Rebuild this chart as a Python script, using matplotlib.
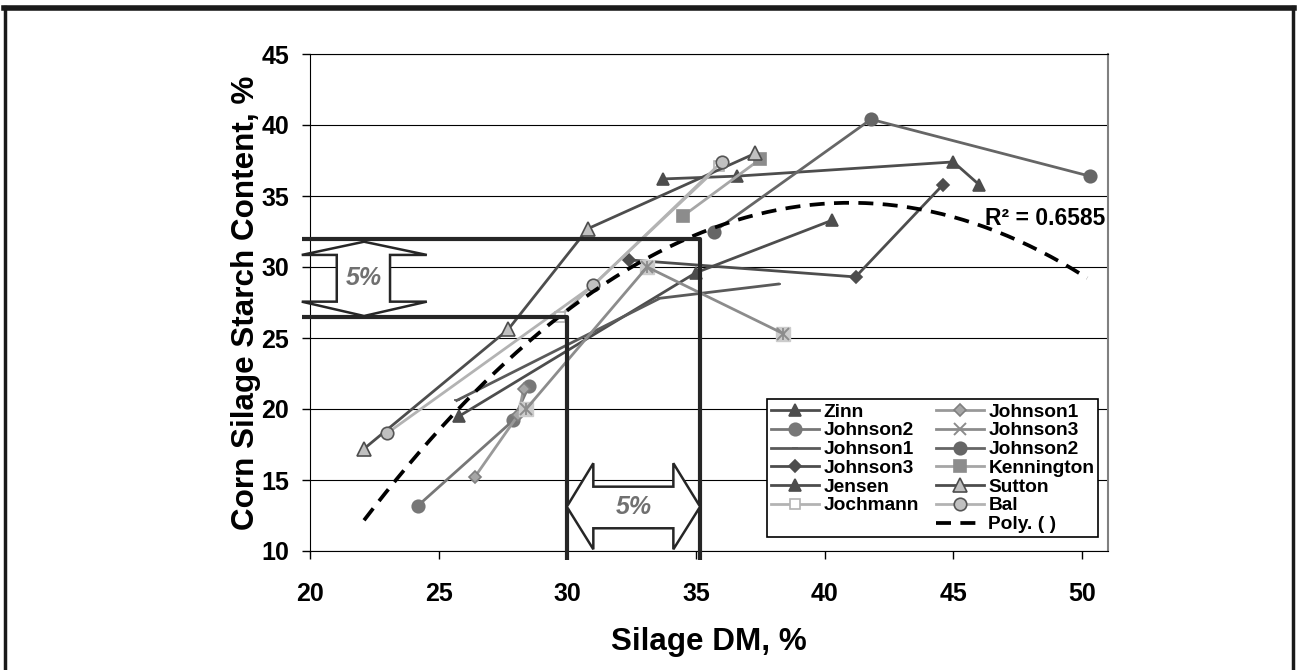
import numpy as np
import matplotlib
matplotlib.use('Agg')
import matplotlib.pyplot as plt
from matplotlib.patches import Polygon
from matplotlib.lines import Line2D

plt.rcParams['font.family'] = ['Liberation Sans', 'DejaVu Sans']
plt.rcParams['font.weight'] = 'bold'

# silage DM (%) vs starch (%), one pair per study
zinn_x = [25.8, 35.0, 40.3]
zinn_y = [19.5, 29.6, 33.3]
johnson2a_x = [24.2, 27.9, 28.5]
johnson2a_y = [13.2, 19.2, 21.6]
johnson1a_x = [25.7, 33.6, 38.2]
johnson1a_y = [20.6, 27.8, 28.8]
johnson3a_x = [32.4, 41.2, 44.6]
johnson3a_y = [30.5, 29.3, 35.8]
jensen_x = [33.7, 36.6, 45.0, 46.0]
jensen_y = [36.2, 36.4, 37.4, 35.8]
jochmann_x = [29.7, 35.9]
jochmann_y = [26.5, 37.1]
johnson1b_x = [26.4, 28.1, 28.3]
johnson1b_y = [15.2, 19.6, 21.4]
johnson3b_x = [28.4, 33.1, 38.4]
johnson3b_y = [20.0, 30.0, 25.3]
johnson2b_x = [35.7, 41.8, 50.3]
johnson2b_y = [32.5, 40.4, 36.4]
kennington_x = [34.5, 37.5]
kennington_y = [33.6, 37.6]
sutton_x = [22.1, 27.7, 30.8, 37.3]
sutton_y = [17.2, 25.6, 32.7, 38.0]
bal_x = [23.0, 31.0, 36.0]
bal_y = [18.3, 28.7, 37.4]

# excel 2nd order trendline
poly_coef = [-0.0626, 5.133, -70.7]
poly_x_range = [22.1, 50.2]
r2_label = 'R\u00b2 = 0.6585'

fig = plt.figure(figsize=(12.98, 6.70), dpi=100)
ax = fig.add_axes([310/1298, 1-551/670, 798/1298, 497/670])
ax.set_xlim(20, 51.01)
ax.set_ylim(10, 45)

# name, x, y, line colour, marker, face, edge, marker size
series = [
    ('Zinn', zinn_x, zinn_y, '#4d4d4d', '^', '#4d4d4d', '#4d4d4d', 9),
    ('Johnson2', johnson2a_x, johnson2a_y, '#777777', 'o', '#777777', '#777777', 9),
    ('Johnson1', johnson1a_x, johnson1a_y, '#5a5a5a', '_', '#5a5a5a', '#5a5a5a', 5),
    ('Johnson3', johnson3a_x, johnson3a_y, '#4d4d4d', 'D', '#4d4d4d', '#4d4d4d', 6.5),
    ('Jensen', jensen_x, jensen_y, '#4d4d4d', '^', '#4d4d4d', '#4d4d4d', 9),
    ('Jochmann', jochmann_x, jochmann_y, '#b3b3b3', 's', 'white', '#b3b3b3', 7),
    (None, [], [], 'none', '', 'none', 'none', 1),
    ('Johnson1', johnson1b_x, johnson1b_y, '#999999', 'D', '#a6a6a6', '#808080', 6.5),
    ('Johnson3', johnson3b_x, johnson3b_y, '#8c8c8c', 'x', '#8c8c8c', '#8c8c8c', 8),
    ('Johnson2', johnson2b_x, johnson2b_y, '#666666', 'o', '#666666', '#666666', 9),
    ('Kennington', kennington_x, kennington_y, '#a6a6a6', 's', '#8c8c8c', '#8c8c8c', 8),
    ('Sutton', sutton_x, sutton_y, '#4d4d4d', '^', '#c0c0c0', '#4d4d4d', 10),
    ('Bal', bal_x, bal_y, '#b3b3b3', 'o', '#c0c0c0', '#555555', 9),
]

handles = []
for name, xs, ys, col, mk, fc, ec, ms in series:
    if name is None:
        handles.append(Line2D([], [], color='none', label=' '))
        continue
    if mk == 'x':
        # excel "star" marker: light square with an x and a bar
        ax.plot(xs, ys, ls='none', marker='s', ms=ms + 2, mfc='#cccccc',
                mec='#cccccc', zorder=3)
        ax.plot(xs, ys, ls='none', marker='|', ms=ms, mec=col, mew=1.3,
                zorder=3.5)
    ln, = ax.plot(xs, ys, color=col, lw=2, marker=mk, ms=ms, mfc=fc, mec=ec,
                  mew=1.2 if mk != 'x' else 1.4, label=name, zorder=3)
    handles.append(ln)

px = np.linspace(poly_x_range[0], poly_x_range[1], 200)
poly_ln, = ax.plot(px, np.polyval(poly_coef, px), color='black', lw=2.7,
                   dashes=(4, 2.5), label='Poly. ( )', zorder=4)
handles.append(poly_ln)

ax.text(50.9, 33.4, r2_label, ha='right', va='center', fontsize=16.5,
        fontweight='bold')

# the two 5% guide lines
thick = dict(color='#262626', lw=3, clip_on=False, zorder=5, solid_capstyle='butt')
ax.plot([19.68, 35.16, 35.16], [32, 32, 9.4], **thick)
ax.plot([19.68, 30.0, 30.0], [26.5, 26.5, 9.4], **thick)

# block double arrows
varrow = [(22.1, 31.78), (24.54, 30.85), (23.11, 30.85), (23.11, 27.56),
          (24.54, 27.56), (22.1, 26.55), (19.68, 27.56), (21.04, 27.56),
          (21.04, 30.85), (19.68, 30.85)]
harrow = [(29.98, 13.12), (31.01, 16.18), (31.01, 14.53), (34.12, 14.53),
          (34.12, 16.18), (35.16, 13.12), (34.12, 10.12), (34.12, 11.6),
          (31.01, 11.6), (31.01, 10.12)]
for pts in (varrow, harrow):
    ax.add_patch(Polygon(pts, closed=True, fc='white', ec='#262626', lw=1.8,
                         clip_on=False, zorder=6, joinstyle='miter'))
ax.text(22.1, 29.2, '5%', ha='center', va='center', fontsize=18,
        fontstyle='italic', fontweight='bold', color='#707070', zorder=7)
ax.text(32.57, 13.1, '5%', ha='center', va='center', fontsize=18,
        fontstyle='italic', fontweight='bold', color='#707070', zorder=7)

ax.set_xticks([20, 25, 30, 35, 40, 45, 50])
ax.set_yticks([10, 15, 20, 25, 30, 35, 40, 45])
ax.yaxis.grid(True, color='black', lw=0.8)
ax.set_axisbelow(True)
ax.tick_params(axis='both', direction='out', length=6, width=1, labelsize=18)
ax.tick_params(axis='x', pad=16)
ax.tick_params(axis='y', pad=9)
for lab in ax.get_xticklabels() + ax.get_yticklabels():
    lab.set_fontweight('bold')
ax.spines['right'].set_color('#808080')
ax.spines['right'].set_linewidth(1.5)
for s in ('left', 'bottom', 'top'):
    ax.spines[s].set_color('black')

ax.set_xlabel('Silage DM, %', fontsize=22.6, fontweight='bold')
ax.set_ylabel('Corn Silage Starch Content, %', fontsize=22.6, fontweight='bold')
ax.xaxis.set_label_coords(0.5, -0.152)
ax.yaxis.set_label_coords(-0.062, 0.5)

leg = ax.legend(handles=handles, ncol=2, loc='lower left',
                bbox_to_anchor=(0.5727, 0.028, 0.415, 0.27), mode='expand',
                fontsize=13.8, handlelength=2.5, labelspacing=0.07,
                handletextpad=0.25, columnspacing=0.8, borderpad=0.2,
                fancybox=False, framealpha=1, edgecolor='black',
                borderaxespad=0)
leg.get_frame().set_linewidth(1.2)
leg.set_zorder(8)

# outer frame of the picture
fig.add_artist(Line2D([0.003, 0.997], [0.988, 0.988], color='#1a1a1a', lw=4,
                      transform=fig.transFigure))
fig.add_artist(Line2D([0.004, 0.004], [0.0, 0.99], color='#1a1a1a', lw=2.5,
                      transform=fig.transFigure))
fig.add_artist(Line2D([0.9965, 0.9965], [0.0, 0.99], color='#1a1a1a', lw=2.5,
                      transform=fig.transFigure))

fig.savefig('out.png', dpi=100)
